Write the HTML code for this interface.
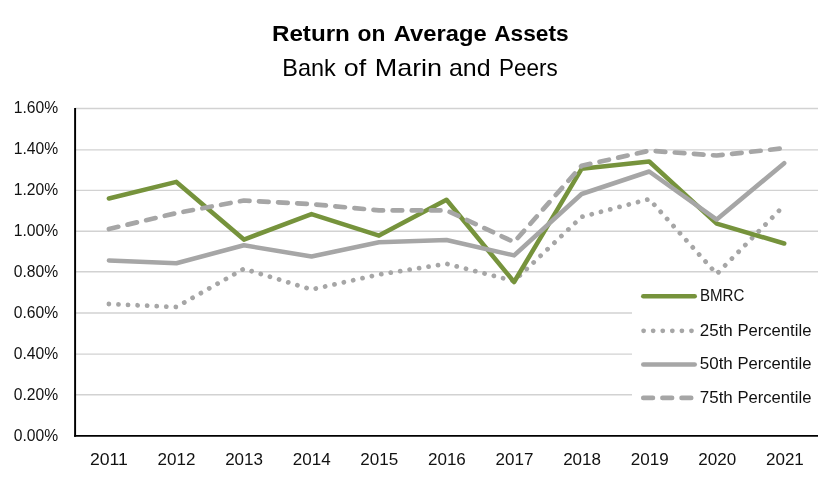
<!DOCTYPE html>
<html lang="en"><head><meta charset="utf-8"><title>Return on Average Assets</title>
<style>
html,body{margin:0;padding:0;background:#fff;}
body{width:840px;height:482px;overflow:hidden;}
svg{display:block;}
text{font-family:"Liberation Sans",sans-serif;fill:#111;}
.t1{font-weight:bold;font-size:22.4px;fill:#000;}
.t2{font-size:24.0px;fill:#000;}
.ax{font-size:16.0px;}
.lg{font-size:15.9px;}
</style></head><body>
<svg width="840" height="482" viewBox="0 0 840 482">
<rect width="840" height="482" fill="#fff"/>
<line x1="75.1" y1="108.50" x2="818.0" y2="108.50" stroke="#d2d2d2" stroke-width="1.35"/>
<line x1="75.1" y1="149.90" x2="818.0" y2="149.90" stroke="#d2d2d2" stroke-width="1.35"/>
<line x1="75.1" y1="190.40" x2="818.0" y2="190.40" stroke="#d2d2d2" stroke-width="1.35"/>
<line x1="75.1" y1="231.20" x2="818.0" y2="231.20" stroke="#d2d2d2" stroke-width="1.35"/>
<line x1="75.1" y1="271.70" x2="818.0" y2="271.70" stroke="#d2d2d2" stroke-width="1.35"/>
<line x1="75.1" y1="313.00" x2="818.0" y2="313.00" stroke="#d2d2d2" stroke-width="1.35"/>
<line x1="75.1" y1="354.10" x2="818.0" y2="354.10" stroke="#d2d2d2" stroke-width="1.35"/>
<line x1="75.1" y1="394.70" x2="818.0" y2="394.70" stroke="#d2d2d2" stroke-width="1.35"/>
<polyline points="108.9,304.0 176.4,307.0 243.9,268.8 311.5,289.5 379.0,274.5 446.5,263.8 514.1,281.0 581.6,216.9 649.2,199.1 716.7,274.0 784.2,205.5" fill="none" stroke="#a6a6a6" stroke-width="4.8" stroke-linecap="round" stroke-linejoin="round" stroke-dasharray="0.01 9.565"/>
<polyline points="108.9,198.5 176.4,181.9 243.9,239.6 311.5,214.1 379.0,235.6 446.5,199.8 514.1,282.0 581.6,168.8 649.2,161.5 716.7,223.6 784.2,243.5" fill="none" stroke="#76933c" stroke-width="4.55" stroke-linecap="round" stroke-linejoin="round"/>
<polyline points="108.9,260.5 176.4,263.2 243.9,245.3 311.5,256.5 379.0,242.3 446.5,240.0 514.1,255.4 581.6,194.0 649.2,171.5 716.7,219.6 784.2,163.2" fill="none" stroke="#a6a6a6" stroke-width="4.55" stroke-linecap="round" stroke-linejoin="round"/>
<polyline points="108.9,229.0 176.4,213.1 243.9,200.5 311.5,204.1 379.0,210.4 446.5,210.4 514.1,242.1 581.6,165.8 649.2,150.7 716.7,155.5 784.2,148.2" fill="none" stroke="#a6a6a6" stroke-width="4.7" stroke-linecap="round" stroke-linejoin="round" stroke-dasharray="9.62 9.52"/>
<rect x="632" y="278" width="190" height="140" fill="#fff"/>
<line x1="75.1" y1="108.0" x2="75.1" y2="436.85" stroke="#000" stroke-width="1.95"/>
<line x1="74.1" y1="435.85" x2="818.0" y2="435.85" stroke="#000" stroke-width="1.95"/>
<line x1="643.3" y1="296.2" x2="694.7" y2="296.2" stroke="#76933c" stroke-width="4.55" stroke-linecap="round"/>
<line x1="643.5999999999999" y1="330.8" x2="694.7" y2="330.8" stroke="#a6a6a6" stroke-width="4.8" stroke-linecap="round" stroke-dasharray="0.01 9.565"/>
<line x1="643.3" y1="364.4" x2="694.7" y2="364.4" stroke="#a6a6a6" stroke-width="4.55" stroke-linecap="round"/>
<line x1="643.3" y1="397.9" x2="694.7" y2="397.9" stroke="#a6a6a6" stroke-width="4.7" stroke-linecap="round" stroke-dasharray="9.62 9.52"/>
<text class="lg" x="699.9" y="301.2" textLength="44.4" lengthAdjust="spacingAndGlyphs">BMRC</text>
<text class="lg" y="335.8"><tspan x="699.8" textLength="33.0" lengthAdjust="spacingAndGlyphs">25th</tspan> <tspan x="737.4" textLength="74.0" lengthAdjust="spacingAndGlyphs">Percentile</tspan></text>
<text class="lg" y="369.4"><tspan x="699.8" textLength="33.0" lengthAdjust="spacingAndGlyphs">50th</tspan> <tspan x="737.4" textLength="74.0" lengthAdjust="spacingAndGlyphs">Percentile</tspan></text>
<text class="lg" y="402.9"><tspan x="699.8" textLength="33.0" lengthAdjust="spacingAndGlyphs">75th</tspan> <tspan x="737.4" textLength="74.0" lengthAdjust="spacingAndGlyphs">Percentile</tspan></text>
<text class="ax" x="58.2" y="113.2" text-anchor="end" textLength="44.4" lengthAdjust="spacingAndGlyphs">1.60%</text>
<text class="ax" x="58.2" y="154.2" text-anchor="end" textLength="44.4" lengthAdjust="spacingAndGlyphs">1.40%</text>
<text class="ax" x="58.2" y="195.2" text-anchor="end" textLength="44.4" lengthAdjust="spacingAndGlyphs">1.20%</text>
<text class="ax" x="58.2" y="236.3" text-anchor="end" textLength="44.4" lengthAdjust="spacingAndGlyphs">1.00%</text>
<text class="ax" x="58.2" y="277.3" text-anchor="end" textLength="44.4" lengthAdjust="spacingAndGlyphs">0.80%</text>
<text class="ax" x="58.2" y="318.3" text-anchor="end" textLength="44.4" lengthAdjust="spacingAndGlyphs">0.60%</text>
<text class="ax" x="58.2" y="359.4" text-anchor="end" textLength="44.4" lengthAdjust="spacingAndGlyphs">0.40%</text>
<text class="ax" x="58.2" y="400.4" text-anchor="end" textLength="44.4" lengthAdjust="spacingAndGlyphs">0.20%</text>
<text class="ax" x="58.2" y="441.4" text-anchor="end" textLength="44.4" lengthAdjust="spacingAndGlyphs">0.00%</text>
<text class="ax" x="108.9" y="465.0" text-anchor="middle" textLength="37.9" lengthAdjust="spacingAndGlyphs">2011</text>
<text class="ax" x="176.5" y="465.0" text-anchor="middle" textLength="37.9" lengthAdjust="spacingAndGlyphs">2012</text>
<text class="ax" x="244.1" y="465.0" text-anchor="middle" textLength="37.9" lengthAdjust="spacingAndGlyphs">2013</text>
<text class="ax" x="311.7" y="465.0" text-anchor="middle" textLength="37.9" lengthAdjust="spacingAndGlyphs">2014</text>
<text class="ax" x="379.3" y="465.0" text-anchor="middle" textLength="37.9" lengthAdjust="spacingAndGlyphs">2015</text>
<text class="ax" x="446.9" y="465.0" text-anchor="middle" textLength="37.9" lengthAdjust="spacingAndGlyphs">2016</text>
<text class="ax" x="514.5" y="465.0" text-anchor="middle" textLength="37.9" lengthAdjust="spacingAndGlyphs">2017</text>
<text class="ax" x="582.1" y="465.0" text-anchor="middle" textLength="37.9" lengthAdjust="spacingAndGlyphs">2018</text>
<text class="ax" x="649.7" y="465.0" text-anchor="middle" textLength="37.9" lengthAdjust="spacingAndGlyphs">2019</text>
<text class="ax" x="717.3" y="465.0" text-anchor="middle" textLength="37.9" lengthAdjust="spacingAndGlyphs">2020</text>
<text class="ax" x="784.9" y="465.0" text-anchor="middle" textLength="37.9" lengthAdjust="spacingAndGlyphs">2021</text>
<text class="t1" y="41.3"><tspan x="271.92" textLength="78.01" lengthAdjust="spacingAndGlyphs">Return</tspan> <tspan x="357.5" textLength="27.89" lengthAdjust="spacingAndGlyphs">on</tspan> <tspan x="393.8" textLength="92.88" lengthAdjust="spacingAndGlyphs">Average</tspan> <tspan x="494.2" textLength="74.46" lengthAdjust="spacingAndGlyphs">Assets</tspan></text>
<text class="t2" y="75.7"><tspan x="282.32" textLength="53.5" lengthAdjust="spacingAndGlyphs">Bank</tspan> <tspan x="343.88" textLength="22.35" lengthAdjust="spacingAndGlyphs">of</tspan> <tspan x="374.68" textLength="67.44" lengthAdjust="spacingAndGlyphs">Marin</tspan> <tspan x="448.96" textLength="41.64" lengthAdjust="spacingAndGlyphs">and</tspan> <tspan x="499.07" textLength="58.53" lengthAdjust="spacingAndGlyphs">Peers</tspan></text>
</svg></body></html>
